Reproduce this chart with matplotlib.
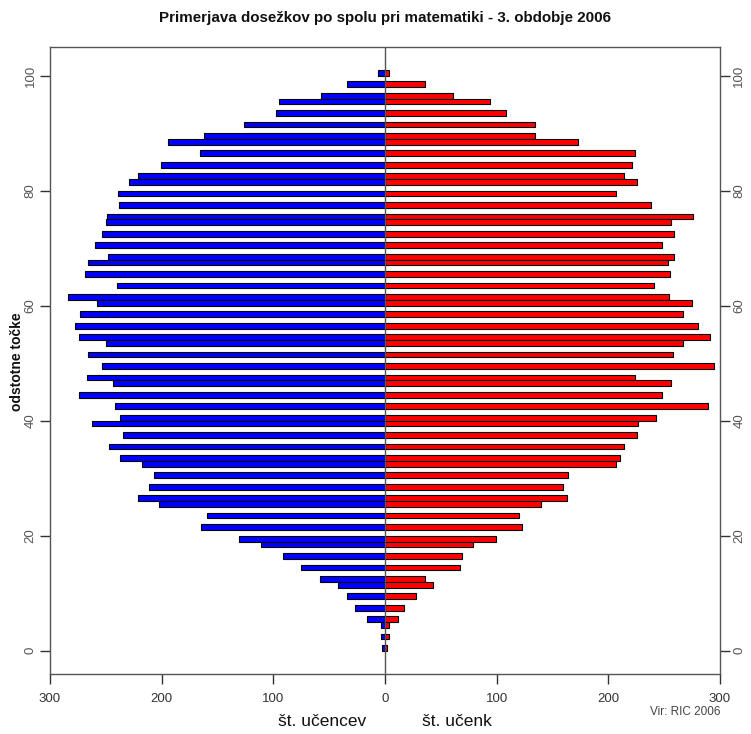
import matplotlib
matplotlib.use("Agg")
import matplotlib.pyplot as plt
import numpy as np

plt.rcParams['font.family'] = ['Liberation Sans', 'DejaVu Sans']

title = "Primerjava dosežkov po spolu pri matematiki - 3. obdobje 2006"
scores = [100, 98, 96, 95, 93, 91, 89, 88, 86, 84, 82, 81, 79, 77, 75, 74, 72, 70,
          68, 67, 65, 63, 61, 60, 58, 56, 54, 53, 51, 49, 47, 46, 44, 42, 40, 39,
          37, 35, 33, 32, 30, 28, 26, 25, 23, 21, 19, 18, 16, 14, 12, 11, 9, 7, 5, 4, 2, 0]
boys = [6, 34, 57, 95, 98, 126, 162, 194, 166, 201, 221, 229, 239, 238, 249, 250, 253, 260,
        248, 266, 269, 240, 284, 258, 273, 278, 274, 250, 266, 253, 267, 244, 274, 242, 237, 262,
        235, 247, 237, 218, 207, 211, 221, 202, 159, 165, 131, 111, 91, 75, 58, 42, 34, 27, 16, 4, 4, 3]
girls = [4, 36, 61, 94, 108, 134, 134, 173, 224, 221, 214, 226, 207, 238, 276, 256, 259, 248,
         259, 253, 255, 241, 254, 275, 267, 280, 291, 267, 258, 295, 224, 256, 248, 289, 243, 227,
         226, 214, 210, 207, 164, 159, 163, 140, 120, 123, 99, 79, 69, 67, 36, 43, 28, 17, 12, 4, 4, 2]
xticks = [-300, -200, -100, 0, 100, 200, 300]
xticklabels = ["300", "200", "100", "0", "100", "200", "300"]
yticks = [0, 20, 40, 60, 80, 100]
label_boys = "št. učencev"
label_girls = "št. učenk"
ylabel = "odstotne točke"
source = "Vir: RIC 2006"

W, H = 751, 734
fig = plt.figure(figsize=(W / 100, H / 100), dpi=100)
ax = fig.add_axes([50 / W, (H - 674) / H, 670 / W, (674 - 46.7) / H])

y = np.array(scores)
ax.barh(y, -np.array(boys), height=1.0, align='edge', color='#0000FF',
        edgecolor='black', linewidth=0.8, zorder=2)
ax.barh(y, np.array(girls), height=1.0, align='edge', color='#FF0000',
        edgecolor='black', linewidth=0.8, zorder=2)
ax.axvline(0, color='#555555', linewidth=1.0, zorder=3)

ax.set_xlim(-300, 300)
ax.set_ylim(-4.04, 105.04)

ax.set_xticks(xticks)
ax.set_xticklabels(xticklabels)
ax.set_yticks(yticks)
ax.set_yticklabels([str(v) for v in yticks])
ax.tick_params(axis='x', length=7, width=1, color='#333333', labelsize=9.5,
               labelcolor='#333333', pad=7)
ax.tick_params(axis='y', length=7, width=1, color='#333333', labelsize=9.5,
               labelcolor='#555555', pad=2.5, left=True, right=True,
               labelleft=True, labelright=True)
for lab in ax.yaxis.get_ticklabels(which='both'):
    lab.set_rotation(90)
    lab.set_va('center')
for t in ax.yaxis.get_major_ticks():
    t.label1.set_rotation(90)
    t.label1.set_va('center')
    t.label2.set_rotation(90)
    t.label2.set_va('center')

for side in ['left', 'right', 'top', 'bottom']:
    ax.spines[side].set_color('#555555')
    ax.spines[side].set_linewidth(1.0)

fig.text(385 / W, 1 - 18 / H, title, ha='center', va='center',
         fontsize=10.9, fontweight='bold', color='#111111')
fig.text(17 / W, 1 - 362 / H, ylabel, ha='center', va='center', rotation=90,
         fontsize=10, fontweight='bold', color='#111111')
fig.text(322 / W, 1 - 722 / H, label_boys, ha='center', va='center',
         fontsize=12.5, color='#111111')
fig.text(457 / W, 1 - 722 / H, label_girls, ha='center', va='center',
         fontsize=12.5, color='#111111')
fig.text(720 / W, 1 - 712 / H, source, ha='right', va='center',
         fontsize=8.5, color='#444444')

fig.savefig("out.png", dpi=100)
